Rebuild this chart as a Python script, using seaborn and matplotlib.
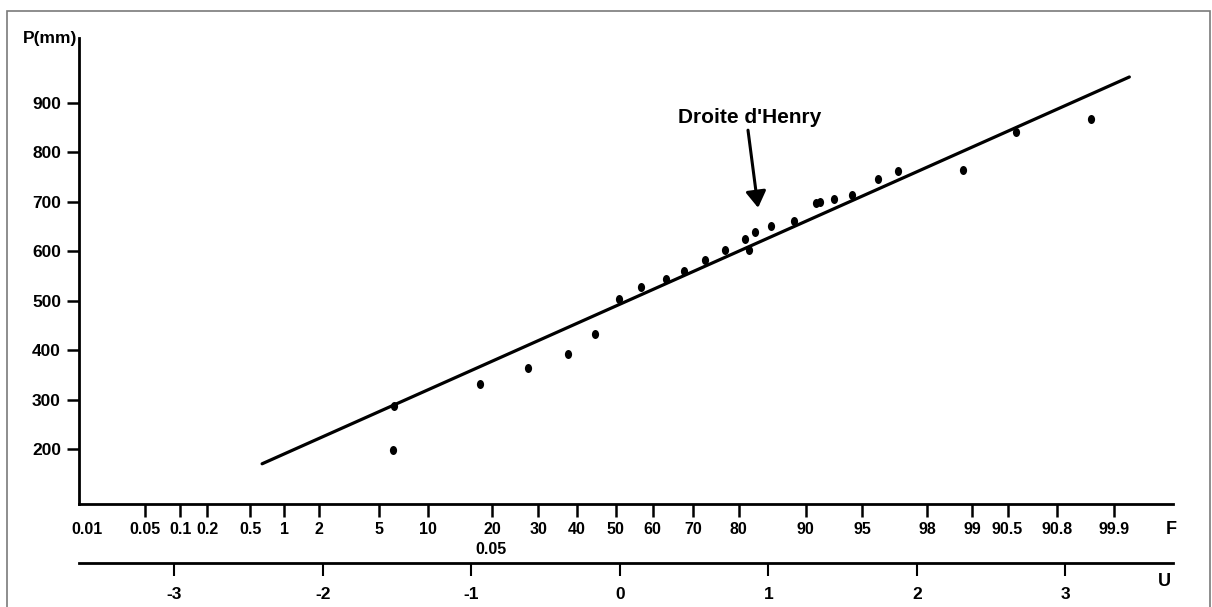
import numpy as np
import pandas as pd
import matplotlib
matplotlib.use("Agg")
import matplotlib.pyplot as plt
from matplotlib.patches import Rectangle
from matplotlib.path import Path
from matplotlib.transforms import Affine2D, blended_transform_factory
import seaborn as sns

# ---------------- data ----------------
u_values = [-1.53, -1.52, -0.94, -0.62, -0.35, -0.17, -0.01, 0.14, 0.31, 0.43,
            0.57, 0.71, 0.84, 0.87, 0.91, 1.02, 1.17, 1.32, 1.35, 1.44,
            1.56, 1.74, 1.87, 2.31, 2.67, 3.17]
p_values = [198, 287, 332, 364, 392, 433, 503, 528, 544, 560,
            582, 603, 625, 603, 639, 651, 661, 698, 700, 706,
            714, 746, 762, 764, 841, 868]

henry_mean = 493
henry_std = 134
henry_u_range = [-2.41, 3.43]

y_ticks = [200, 300, 400, 500, 600, 700, 800, 900]
f_labels = ["0.01", "0.05", "0.1", "0.2", "0.5", "1", "2", "5", "10", "20", "30",
            "40", "50", "60", "70", "80", "90", "95", "98", "99", "90.5", "90.8", "99.9"]
f_tick_u = [-3.59, -3.20, -2.96, -2.78, -2.49, -2.26, -2.03, -1.62, -1.29, -0.86, -0.55,
            -0.29, -0.03, 0.22, 0.49, 0.80, 1.25, 1.63, 2.07, 2.37, 2.61, 2.94, 3.33]
u_ticks = [-3, -2, -1, 0, 1, 2, 3]

# ---------------- style ----------------
sns.set_style("white")
plt.rcParams["font.family"] = ["Liberation Sans", "DejaVu Sans"]
plt.rcParams["font.weight"] = "bold"
for k in ["text.color", "axes.labelcolor", "xtick.color", "ytick.color"]:
    plt.rcParams[k] = "black"

W, H = 1212, 607
fig = plt.figure(figsize=(W / 100, H / 100), dpi=100)
ax = fig.add_axes([79 / W, 1 - 504 / H, (1173 - 79) / W, (504 - 38) / H])

df = pd.DataFrame({"U": u_values, "P": p_values})
line_u = np.array(henry_u_range)
line_df = pd.DataFrame({"U": line_u, "P": henry_mean + henry_std * line_u})

sns.lineplot(data=line_df, x="U", y="P", color="black", lw=2.3, ax=ax)
marker = Path.unit_circle().transformed(Affine2D().scale(0.8, 1.0))
sns.scatterplot(data=df, x="U", y="P", color="black", marker=marker, s=42,
                linewidth=0, ax=ax, zorder=3)

ax.set_xlim(-3.643, 3.724)
ax.set_ylim(88.7, 1031.5)
ax.set_xlabel("")
ax.set_ylabel("")
sns.despine(ax=ax)
for s in ["left", "bottom"]:
    ax.spines[s].set_linewidth(2.0)
    ax.spines[s].set_color("black")

ax.set_yticks(y_ticks)
ax.set_yticklabels([str(v) for v in y_ticks])
ax.set_xticks(f_tick_u)
ax.set_xticklabels(f_labels)
ax.tick_params(axis="y", direction="out", length=9, width=1.8, pad=4,
               labelsize=12.5, colors="black", left=True)
ax.tick_params(axis="x", direction="out", length=9, width=1.8, pad=4,
               labelsize=11.5, colors="black", bottom=True)
ax.xaxis.get_major_ticks()[0].tick1line.set_visible(False)

# second scale: standard normal variable U
sec = ax.secondary_xaxis(-59 / 466)
sec.set_xticks(u_ticks)
sec.set_xticklabels([str(v) for v in u_ticks])
sec.tick_params(axis="x", direction="out", length=9, width=1.5, pad=8,
                labelsize=12.5, colors="black")
sec.spines["bottom"].set_linewidth(2.0)
sec.spines["bottom"].set_color("black")

# extra small label under "20"
trans = blended_transform_factory(ax.transData, ax.transAxes)
ax.text(-0.87, -45 / 466, "0.05", transform=trans, ha="center", va="center",
        fontsize=11.5, fontweight="bold", color="black")

# axis names
fig.text(1171 / W, 1 - 529 / H, "F", ha="center", va="center", fontsize=13, fontweight="bold", color="black")
fig.text(1164 / W, 1 - 582 / H, "U", ha="center", va="center", fontsize=13, fontweight="bold", color="black")
fig.text(50 / W, 1 - 39 / H, "P(mm)", ha="center", va="center", fontsize=12.5, fontweight="bold", color="black")

# annotation
ax.annotate("", xy=(0.93, 688), xytext=(0.862, 845),
            arrowprops=dict(arrowstyle="-|>,head_length=0.45,head_width=0.28",
                            color="black", lw=2.2, mutation_scale=22,
                            shrinkA=0, shrinkB=0))
ax.text(0.875, 870, "Droite d'Henry", ha="center", va="center",
        fontsize=15, fontweight="bold", color="black")

# outer frame
fig.add_artist(Rectangle((7 / W, -0.02), (1210 - 7) / W, 1 - 11 / H + 0.02,
                         transform=fig.transFigure, fill=False,
                         edgecolor="#7a7a7a", linewidth=1.2))

fig.savefig("out.png", dpi=100)
